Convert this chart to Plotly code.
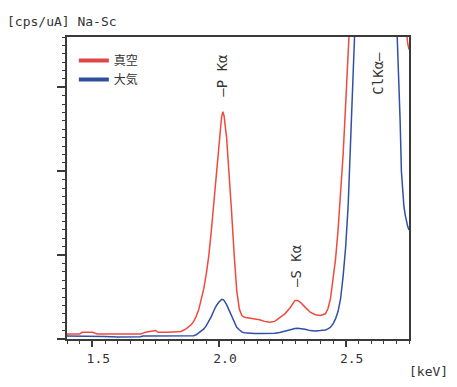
import plotly.graph_objects as go

energy_kev = [1.40, 1.45, 1.46, 1.50, 1.52, 1.55, 1.60, 1.65, 1.69, 1.70, 1.71, 1.75, 1.76, 1.80,
              1.85, 1.87, 1.89, 1.90, 1.91, 1.92, 1.93, 1.94, 1.95, 1.96, 1.97, 1.98, 1.99, 2.00,
              2.01, 2.015, 2.02, 2.03, 2.04, 2.05, 2.06, 2.07, 2.08, 2.09, 2.10, 2.12, 2.14, 2.16,
              2.18, 2.20, 2.22, 2.24, 2.26, 2.28, 2.29, 2.30, 2.31, 2.32, 2.34, 2.36, 2.38, 2.40,
              2.42, 2.43, 2.44, 2.45, 2.46, 2.47, 2.48, 2.49, 2.50, 2.51, 2.52, 2.53, 2.54, 2.56,
              2.60, 2.65, 2.69, 2.70, 2.705, 2.71, 2.715, 2.72, 2.725, 2.73, 2.735, 2.74, 2.745, 2.75]

vacuum_cps = [0.06, 0.06, 0.08, 0.08, 0.06, 0.06, 0.06, 0.06, 0.06, 0.07, 0.08, 0.10, 0.08, 0.08,
              0.09, 0.12, 0.17, 0.21, 0.27, 0.35, 0.46, 0.60, 0.78, 1.00, 1.30, 1.65, 2.02, 2.36,
              2.64, 2.71, 2.66, 2.40, 2.00, 1.50, 1.00, 0.58, 0.36, 0.28, 0.26, 0.25, 0.24, 0.23,
              0.21, 0.20, 0.21, 0.25, 0.30, 0.37, 0.42, 0.46, 0.46, 0.44, 0.38, 0.32, 0.29, 0.28,
              0.30, 0.36, 0.48, 0.70, 0.95, 1.30, 1.70, 2.20, 2.80, 3.50, 4.30, 5.0, 5.8, 7.0,
              9.0, 9.5, 8.0, 7.5, 7.0, 6.5, 6.0, 5.2, 4.6, 4.1, 3.8, 3.62, 3.52, 3.45]

air_cps = [0.036, 0.036, 0.036, 0.034, 0.032, 0.030, 0.024, 0.024, 0.026, 0.036, 0.036, 0.036, 0.036, 0.036,
           0.036, 0.036, 0.036, 0.04, 0.05, 0.07, 0.09, 0.12, 0.16, 0.21, 0.27, 0.34, 0.40, 0.44,
           0.47, 0.47, 0.46, 0.41, 0.34, 0.26, 0.19, 0.14, 0.11, 0.085, 0.075, 0.068, 0.066, 0.066,
           0.066, 0.068, 0.070, 0.078, 0.095, 0.11, 0.118, 0.125, 0.127, 0.125, 0.115, 0.10, 0.095, 0.10,
           0.107, 0.12, 0.14, 0.18, 0.24, 0.33, 0.48, 0.75, 1.10, 1.60, 2.30, 3.20, 4.0, 5.0,
           6.0, 6.0, 4.5, 3.9, 3.5, 3.1, 2.6, 2.0, 1.72, 1.58, 1.48, 1.40, 1.34, 1.30]

series_names = ["真空", "大気"]
x_tick_vals = [1.5, 2.0, 2.5]
x_tick_text = ["1.5", "2.0", "2.5"]
x_mid_ticks = [1.75, 2.25, 2.75]
peak_labels = ["—P Kα", "—S Kα", "ClKα—"]
peak_kev = [2.012, 2.303, 2.626]
peak_label_y = [3.14, 0.88, 3.17]

RED = "#ee4a3e"
BLUE = "#2f50a6"
AX = "#3a3a3a"
MONO = "DejaVu Sans Mono"
JP = "Noto Sans CJK JP"

X_RANGE = [1.4, 2.75]
Y_RANGE = [0, 3.6]

fig = go.Figure()
fig.add_trace(go.Scatter(x=energy_kev, y=vacuum_cps, mode="lines", showlegend=False,
                         line=dict(color=RED, width=1.5)))
fig.add_trace(go.Scatter(x=energy_kev, y=air_cps, mode="lines", showlegend=False,
                         line=dict(color=BLUE, width=1.5)))
# legend entries
fig.add_trace(go.Scatter(x=[None], y=[None], mode="lines", name=series_names[0],
                         line=dict(color="#e04646", width=4)))
fig.add_trace(go.Scatter(x=[None], y=[None], mode="lines", name=series_names[1],
                         line=dict(color="#2f4f9c", width=4)))

for txt, xk, yk in zip(peak_labels, peak_kev, peak_label_y):
    fig.add_annotation(x=xk, y=yk, xref="x", yref="y", text=txt, showarrow=False,
                       textangle=-90, font=dict(family=MONO, size=14, color="#333"),
                       xanchor="center", yanchor="middle")

fig.add_annotation(x=1.0556, y=-0.109, xref="paper", yref="paper", text="[keV]",
                   showarrow=False, font=dict(family=MONO, size=13, color="#333"),
                   xanchor="center", yanchor="middle")

fig.update_layout(
    width=457, height=387,
    margin=dict(l=67, r=48, t=37, b=48),
    paper_bgcolor="white", plot_bgcolor="white",
    title=dict(text="[cps/uA] Na-Sc", x=7 / 457, xanchor="left", xref="container",
               y=1 - 21 / 387, yanchor="middle", yref="container",
               font=dict(family=MONO, size=13, color="#333")),
    legend=dict(x=0.02, y=0.97, xanchor="left", yanchor="top", bgcolor="rgba(0,0,0,0)",
                font=dict(family=JP, size=12, color="#333"), borderwidth=0,
                tracegroupgap=0),
    xaxis=dict(range=X_RANGE, showgrid=False, zeroline=False, showline=True, mirror=True,
               linecolor=AX, linewidth=2, ticks="outside", ticklen=6, tickwidth=1.5,
               tickcolor=AX, tickvals=x_tick_vals, ticktext=x_tick_text,
               tickfont=dict(family=MONO, size=13, color="#333"), ticklabelshift=6,
               ticklabelstandoff=0,
               minor=dict(dtick=0.05, tick0=1.4, ticklen=3, tickcolor=AX, tickwidth=1,
                          ticks="outside", showgrid=False)),
    xaxis2=dict(range=X_RANGE, overlaying="x", side="bottom", showgrid=False, zeroline=False,
                showline=False, ticks="outside", ticklen=5, tickwidth=1.5, tickcolor=AX,
                tickvals=x_mid_ticks, showticklabels=False),
    yaxis=dict(range=Y_RANGE, showgrid=False, zeroline=False, showline=True, mirror=True,
               linecolor=AX, linewidth=2, ticks="outside", ticklen=8, tickwidth=1.5,
               tickcolor=AX, tick0=0, dtick=1, showticklabels=False,
               minor=dict(dtick=0.1, tick0=0, ticklen=3, tickcolor=AX, tickwidth=1,
                          ticks="outside", showgrid=False)),
    yaxis2=dict(range=Y_RANGE, overlaying="y", side="left", showgrid=False, zeroline=False,
                showline=False, ticks="outside", ticklen=5, tickwidth=1.5, tickcolor=AX,
                tick0=0.5, dtick=1, showticklabels=False),
)

fig.write_html("out.html", config={"displayModeBar": False},
               post_script="document.body.style.margin='0px';")
